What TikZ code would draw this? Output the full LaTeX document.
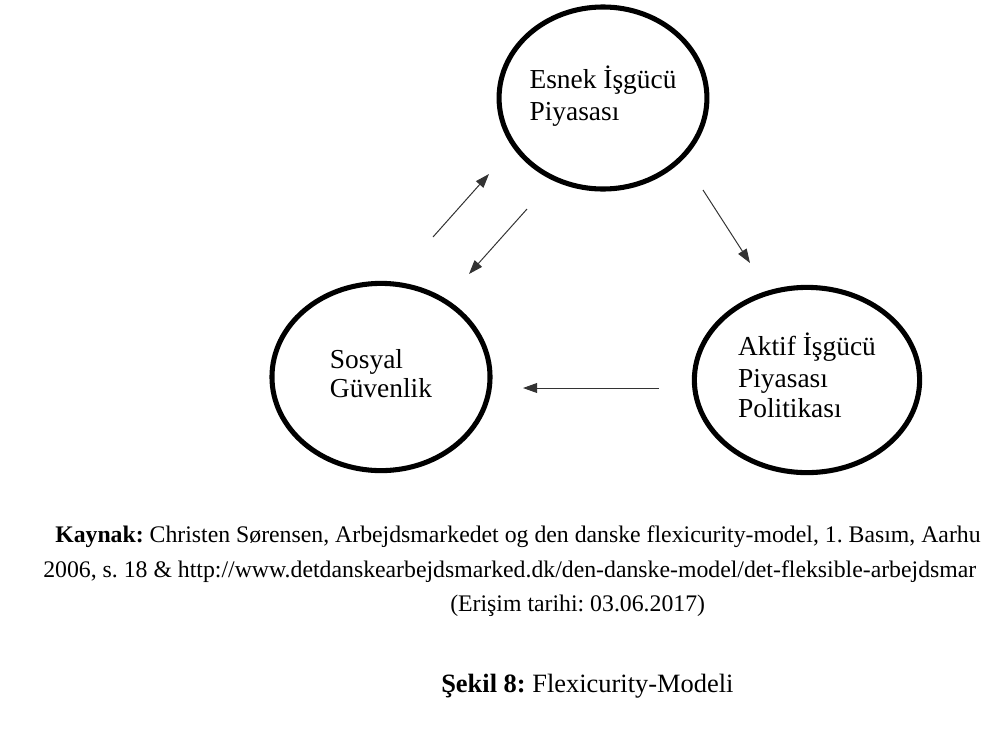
\documentclass[tikz,border=0pt]{standalone}
\usepackage{fontspec}
\setmainfont{Liberation Serif}
\usetikzlibrary{shapes.geometric,arrows.meta}
\frenchspacing

\newcommand{\bubtext}[1]{\begin{tabular}{@{}l@{}}#1\end{tabular}}

\tikzset{
	bubble/.style={ellipse, draw, line width=3.6pt, inner sep=0pt, font=\fontsize{19.5}{22.7}\selectfont},
	arr/.style={-{Triangle[length=10pt,width=7pt]}, line width=0.7pt, draw=black!80},
	capt/.style={anchor=base west, inner sep=0pt, font=\fontsize{16.9}{20}\selectfont}
}

\begin{document}
\begin{tikzpicture}[x=0.025cm, y=-0.025cm]
	\useasboundingbox (0,0) rectangle (981,731);

%ellipses
	\node[bubble, minimum width=5.18cm, minimum height=4.55cm] (esnek) at (603,98)
		{\bubtext{Esnek İşgücü\\ Piyasası}};
	\node[bubble, minimum width=5.45cm, minimum height=4.68cm] (sosyal) at (381,377)
		{\bubtext{Sosyal\\[-2pt] Güvenlik}};
	\node[bubble, minimum width=5.63cm, minimum height=4.63cm] (aktif) at (807,380)
		{\bubtext{Aktif İşgücü\\ Piyasası\\[-1pt] Politikası}};

%arrows
	\coordinate (sosyal-up) at (433,237);
	\coordinate (esnek-in) at (489,174);
	\coordinate (esnek-down) at (527,209);
	\coordinate (sosyal-in) at (469,274);
	\coordinate (esnek-out) at (703,190);
	\coordinate (aktif-in) at (750,263);
	\coordinate (aktif-out) at (659,388);
	\coordinate (sosyal-left) at (523,388);

	\foreach \s/\e in {sosyal-up/esnek-in, esnek-down/sosyal-in, esnek-out/aktif-in, aktif-out/sosyal-left}{
		\draw[arr] (\s) -- (\e);
	}

%source and title
	\node[capt] (kaynak) at (55,542) {\textbf{Kaynak:} Christen Sørensen, Arbejdsmarkedet og den danske flexicurity-model, 1. Basım, Aarhu};
	\node[capt] (url) at (43,577) {2006, s. 18 \& http://www.detdanskearbejdsmarked.dk/den-danske-model/det-fleksible-arbejdsmar};
	\node[capt] (erisim) at (450,611) {(Erişim tarihi: 03.06.2017)};
	\node[capt, font=\fontsize{18.8}{20}\selectfont] (sekil) at (441,692) {\textbf{Şekil 8:} Flexicurity-Modeli};

\end{tikzpicture}
\end{document}
